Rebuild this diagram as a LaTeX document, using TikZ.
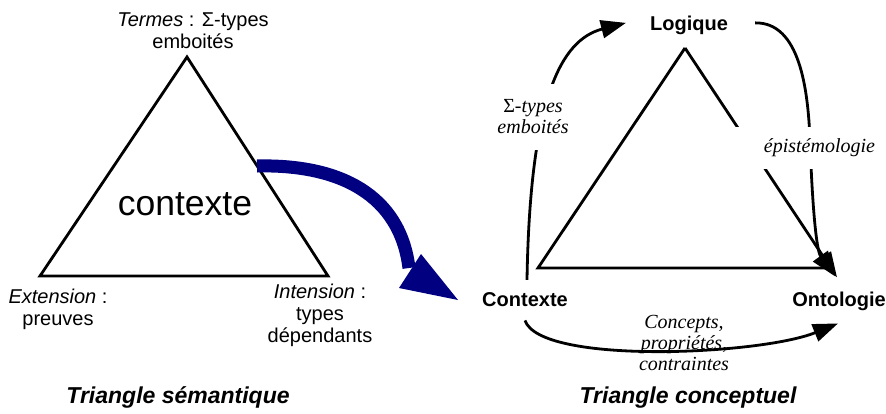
\documentclass[tikz,border=0pt]{standalone}
\usepackage{fontspec}
\setmainfont{Liberation Sans}
\newfontfamily\serifit{Liberation Serif}
\usepackage{tikz}
\usetikzlibrary{arrows.meta}
\definecolor{navy}{HTML}{000080}

\begin{document}
\begin{tikzpicture}[
    x=1pt, y=-1pt,
    every node/.style={inner sep=0pt},
    lbl/.style={font=\fontsize{20}{22}\selectfont, align=center},
    sommet/.style={font=\fontsize{20}{22}\selectfont\bfseries},
    glose/.style={font=\fontsize{20}{21}\selectfont\serifit\itshape,
                  align=center},
    titre/.style={font=\fontsize{23}{26}\selectfont\bfseries\itshape},
    edge/.style={line width=2.8pt},
    fleche/.style={line width=2.8pt, -{Triangle[length=25pt, width=18pt]}},
    blanc/.style={fill=white}
]
\useasboundingbox (0,0) rectangle (886,413);

% Triangle semantique
\coordinate (s1) at (187,57);
\coordinate (s2) at (40,276);
\coordinate (s3) at (328,276);
\draw[edge] (s1) -- (s2) -- (s3) -- cycle;
\node[font=\fontsize{35.5}{40}\selectfont, anchor=base] (ctx) at (185,215)
    {contexte};
\node[lbl] (termes) at (193,31) {\textit{Termes} : Σ-types\\emboités};
\node[lbl] (ext) at (58,309) {\textit{Extension} :\\preuves};
\node[lbl] (int) at (320,315) {\textit{Intension} :\\types\\dépendants};

% Passage
\coordinate (pa) at (257,166);
\coordinate (pb) at (409,268);
\draw[navy, line width=13pt] (pa) .. controls (340,164) and (400,195) .. (pb);
\fill[navy] (399,288) -- (421,254) -- (458,300) -- cycle;

% Triangle conceptuel
\node[sommet, anchor=base] (logique) at (689,30) {Logique};
\node[sommet, anchor=base] (contexte) at (525,306) {Contexte};
\node[sommet, anchor=base] (onto) at (839,306) {Ontologie};

\coordinate (c1) at (685,48);
\coordinate (c2) at (538,268);
\coordinate (c3) at (826,268);
\draw[edge] (c1) -- (c2) -- (c3);
\draw[fleche] (c1) -- ([shift={(-2,-14)}]onto.north);

% Arcs
\draw[fleche] ([shift={(2,-12)}]contexte.north)
    .. controls (530,100) and (560,40) .. ([shift={(-24,-2)}]logique.west);
\draw[fleche] ([shift={(27,-2)}]logique.east)
    .. controls (800,22) and (808,90) .. (810,140)
    .. controls (812,200) and (816,250) .. ([shift={(-4,-15)}]onto.north);
\draw[fleche] ([shift={(0,14)}]contexte.south)
    .. controls (540,365) and (760,355) .. ([shift={(-1,13)}]onto.south);

% Gloses
\node[glose, blanc, minimum height=66pt] (sigma) at (533,117)
    {{\upshape Σ-}types\\emboités};
\node[glose, blanc, text width=142pt, align=right, minimum height=42pt]
    (episte) at (804,148) {épistémologie};
\node[glose] (concepts) at (684,343) {Concepts,\\propriétés,\\contraintes};

% Titres
\node[titre, anchor=base] (tsem) at (178,403) {Triangle sémantique};
\node[titre, anchor=base] (tcon) at (688,403) {Triangle conceptuel};

\end{tikzpicture}
\end{document}
